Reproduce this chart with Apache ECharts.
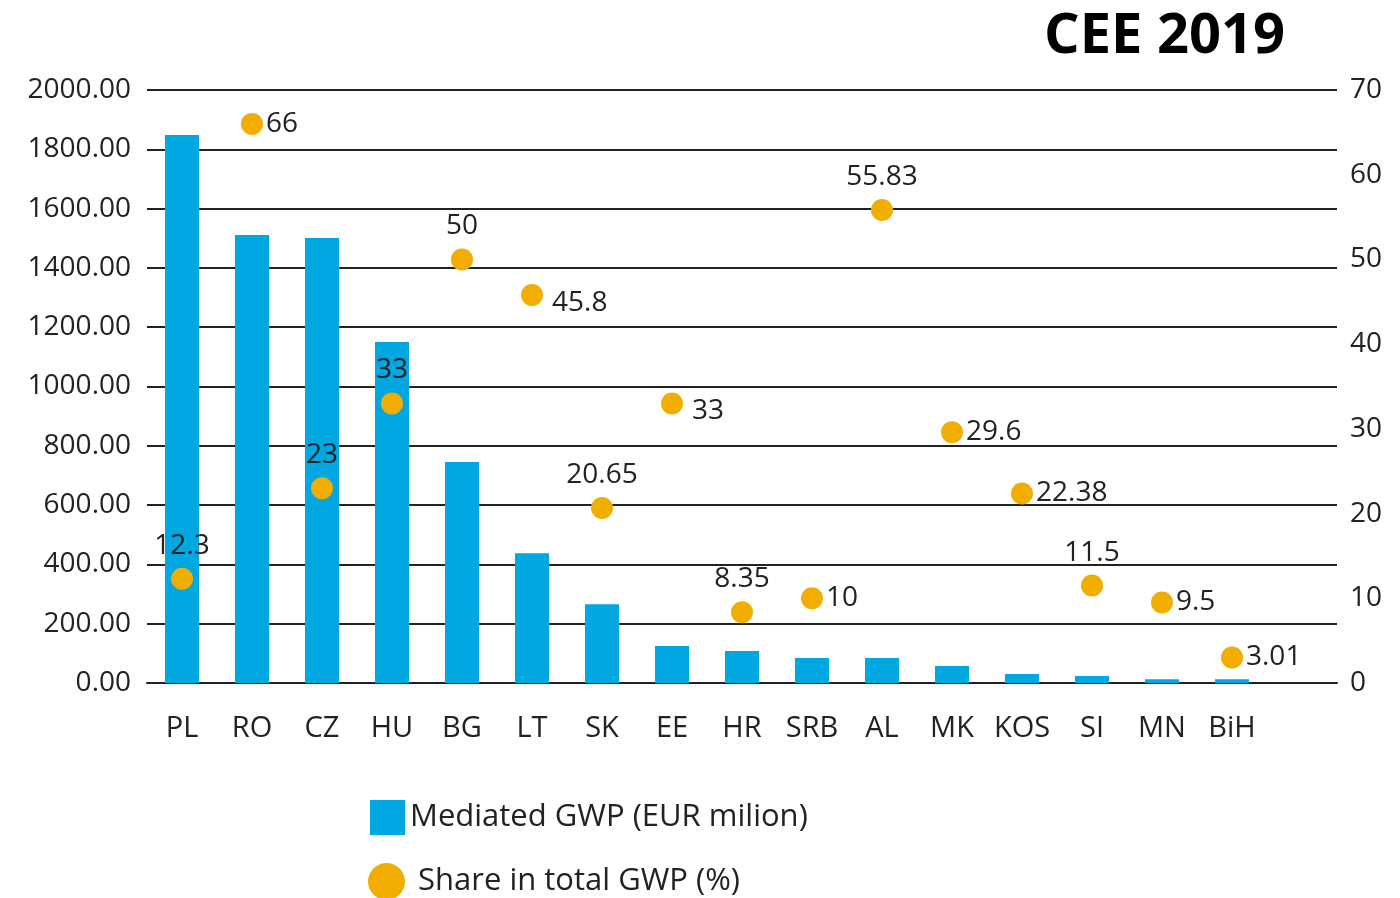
<!DOCTYPE html>
<html>
<head>
<meta charset="utf-8">
<title>CEE 2019</title>
<script src="https://cdn.jsdelivr.net/npm/echarts@6/dist/echarts.min.js"></script>
<style>
  html, body { margin: 0; padding: 0; background: #fff; }
  #chart { width: 1400px; height: 898px; }
</style>
</head>
<body>
<div id="chart"></div>
<script>
// data
const countries = ['PL', 'RO', 'CZ', 'HU', 'BG', 'LT', 'SK', 'EE', 'HR', 'SRB', 'AL', 'MK', 'KOS', 'SI', 'MN', 'BiH'];
const mediatedGwp = [1848, 1511, 1501, 1150, 745, 438, 266, 125, 108, 84, 84, 57, 30, 24, 13, 13];
const shareGwp = [12.3, 66, 23, 33, 50, 45.8, 20.65, 33, 8.35, 10, 55.83, 29.6, 22.38, 11.5, 9.5, 3.01];
const shareLabels = ['12.3', '66', '23', '33', '50', '45.8', '20.65', '33', '8.35', '10', '55.83', '29.6', '22.38', '11.5', '9.5', '3.01'];
const leftTicks = [0, 200, 400, 600, 800, 1000, 1200, 1400, 1600, 1800, 2000];
const rightTicks = [0, 10, 20, 30, 40, 50, 60, 70];

// where each point label sits (t = top, r = right, rd = right and a bit lower)
const labelSide = ['t', 'r', 't', 't', 't', 'rd', 't', 'rd', 't', 'r', 't', 'r', 'r', 't', 'r', 'r'];

const FONT = 'Open Sans';
const BLUE = '#00a7e1';
const ORANGE = '#f2ae00';
const TEXT = '#222';

const chart = echarts.init(document.getElementById('chart'));

// one empty slot at the end, the grid lines run past the last country
const axisCats = countries.concat(['']);

const scatterData = shareGwp.map((v, i) => {
  const side = labelSide[i];
  const label = { formatter: shareLabels[i] };
  if (side === 't') {
    label.position = 'top';
    label.distance = 8;
  } else {
    label.position = 'right';
    label.distance = 3;
    if (side === 'rd') label.offset = [6, 8];
  }
  return { value: v, label: label };
});

const option = {
  animation: false,
  title: {
    text: 'CEE 2019',
    right: 110,
    top: 4,
    textStyle: { fontFamily: FONT, fontWeight: 'bold', fontSize: 56, color: '#000' }
  },
  legend: [
    {
      left: 370,
      top: 800,
      padding: 0,
      itemWidth: 35,
      itemHeight: 35,
      textStyle: { fontFamily: FONT, fontSize: 31, color: TEXT },
      data: [{ name: 'Mediated GWP (EUR milion)', icon: 'rect' }]
    },
    {
      left: 368,
      top: 863,
      padding: 0,
      itemWidth: 37,
      itemHeight: 37,
      formatter: name => ' ' + name,
      textStyle: { fontFamily: FONT, fontSize: 31, color: TEXT },
      data: [{ name: 'Share in total GWP (%)', icon: 'circle' }]
    }
  ],
  grid: { left: 147, right: 63, top: 90, bottom: 215 },
  xAxis: {
    type: 'category',
    data: axisCats,
    axisLine: { show: true, lineStyle: { color: TEXT, width: 2 } },
    axisTick: { show: false },
    axisLabel: { margin: 31, fontFamily: FONT, fontSize: 29, color: TEXT, interval: 0 }
  },
  yAxis: [
    {
      type: 'value',
      min: leftTicks[0],
      max: leftTicks[leftTicks.length - 1],
      interval: leftTicks[1] - leftTicks[0],
      axisLine: { show: false },
      axisTick: { show: false },
      splitLine: { lineStyle: { color: TEXT, width: 2 } },
      axisLabel: {
        margin: 16,
        fontFamily: FONT, fontSize: 28, color: TEXT,
        formatter: v => v.toFixed(2)
      }
    },
    {
      type: 'value',
      min: rightTicks[0],
      max: rightTicks[rightTicks.length - 1],
      interval: rightTicks[1] - rightTicks[0],
      axisLine: { show: false },
      axisTick: { show: false },
      splitLine: { show: false },
      axisLabel: { margin: 13, fontFamily: FONT, fontSize: 28, color: TEXT }
    }
  ],
  series: [
    {
      name: 'Mediated GWP (EUR milion)',
      type: 'bar',
      data: mediatedGwp,
      barWidth: 34,
      itemStyle: { color: BLUE },
      z: 2
    },
    {
      name: 'Share in total GWP (%)',
      type: 'scatter',
      yAxisIndex: 1,
      data: scatterData,
      symbolSize: 22,
      itemStyle: { color: ORANGE, opacity: 1 },
      label: { show: true, fontFamily: FONT, fontSize: 28, color: TEXT },
      z: 3
    }
  ]
};

chart.setOption(option);
window.addEventListener('resize', () => chart.resize());
</script>
</body>
</html>
